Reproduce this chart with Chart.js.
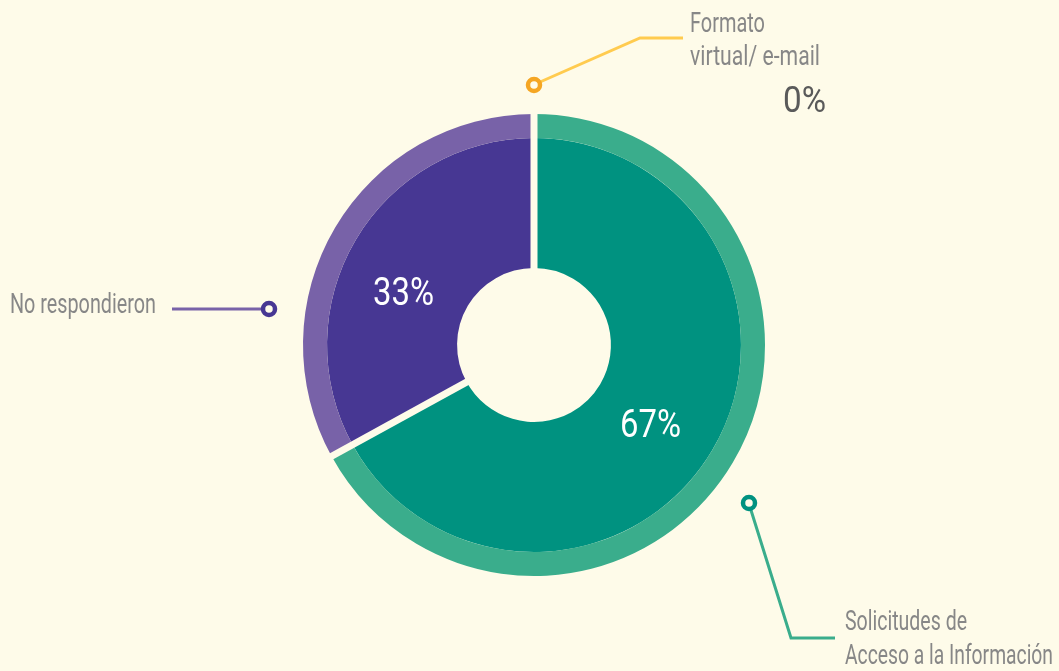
<!DOCTYPE html>
<html>
<head>
<meta charset="utf-8">
<script src="https://cdn.jsdelivr.net/npm/chart.js@4"></script>
<style>
  html, body { margin: 0; padding: 0; background: #FEFBE9; }
  #wrap { width: 1059px; height: 671px; position: relative; }
</style>
</head>
<body>
<div id="wrap"><canvas id="pieChart"></canvas></div>
<script>
// data
const categories = ['Solicitudes de Acceso a la Información', 'No respondieron', 'Formato virtual/ e-mail'];
const values = [67, 33, 0];
const pctLabels = ['67%', '33%', '0%'];

const bg = '#FEFBE9';
const darkColors = ['#009280', '#473793', '#F5A623'];
const lightColors = ['#3AAD8C', '#7862A8', '#FFCB4F'];
const labelGray = '#878787';

const ctx = document.getElementById('pieChart').getContext('2d');

// draws condensed text so it fits a given width (the original uses a narrow font)
function drawText(c, text, x, y, size, color, width, align) {
  c.save();
  c.font = size + 'px Roboto';
  c.fillStyle = color;
  c.textBaseline = 'alphabetic';
  const w = c.measureText(text).width;
  const sx = width / w;
  let left = x;
  if (align === 'center') left = x - width / 2;
  c.translate(left, y);
  c.scale(sx, 1);
  c.textAlign = 'left';
  c.fillText(text, 0, 0);
  c.restore();
}

function ringDot(c, x, y, color) {
  c.save();
  c.beginPath();
  c.arc(x, y, 6, 0, Math.PI * 2);
  c.fillStyle = bg;
  c.fill();
  c.lineWidth = 4.5;
  c.strokeStyle = color;
  c.stroke();
  c.restore();
}

function polyline(c, pts, color) {
  c.save();
  c.beginPath();
  c.moveTo(pts[0][0], pts[0][1]);
  for (let i = 1; i < pts.length; i++) c.lineTo(pts[i][0], pts[i][1]);
  c.lineWidth = 3;
  c.strokeStyle = color;
  c.lineJoin = 'miter';
  c.stroke();
  c.restore();
}

// white gaps between the slices
const gapPlugin = {
  id: 'gaps',
  afterDatasetsDraw(chart) {
    const inner = chart.getDatasetMeta(1).data;
    const outer = chart.getDatasetMeta(0).data;
    const c = chart.ctx;
    const r0 = inner[0].innerRadius - 1;
    const r1 = outer[0].outerRadius + 1;
    const cx = inner[0].x, cy = inner[0].y;
    c.save();
    c.strokeStyle = bg;
    c.lineWidth = 7;
    inner.forEach((arc, i) => {
      if (!values[i]) return;
      const a = arc.startAngle;
      c.beginPath();
      c.moveTo(cx + r0 * Math.cos(a), cy + r0 * Math.sin(a));
      c.lineTo(cx + r1 * Math.cos(a), cy + r1 * Math.sin(a));
      c.stroke();
    });
    c.restore();
  }
};

// callouts and percentages
const calloutPlugin = {
  id: 'callouts',
  afterDraw(chart) {
    const c = chart.ctx;
    const arc = chart.getDatasetMeta(1).data[0];
    const cx = arc.x, cy = arc.y;

    // percentages inside the slices
    drawText(c, pctLabels[1], cx - 130.5, cy - 40, 39, '#FFFFFF', 61, 'center');
    drawText(c, pctLabels[0], cx + 116.5, cy + 92, 38, '#FFFFFF', 61, 'center');

    // Formato virtual / e-mail
    polyline(c, [[cx + 6, cy - 263], [cx + 106, cy - 307], [cx + 149, cy - 307]], lightColors[2]);
    ringDot(c, cx, cy - 260, darkColors[2]);
    drawText(c, 'Formato', cx + 156, cy - 313.5, 27, labelGray, 75);
    drawText(c, 'virtual/ e-mail', cx + 156, cy - 280, 27, labelGray, 130);
    drawText(c, pctLabels[2], cx + 249, cy - 233.3, 37, '#5A5A5A', 43);

    // No respondieron
    polyline(c, [[cx - 362, cy - 36], [cx - 270, cy - 36]], lightColors[1]);
    ringDot(c, cx - 265, cy - 36, darkColors[1]);
    drawText(c, categories[1], cx - 524, cy - 32.3, 27, labelGray, 146);

    // Solicitudes de Acceso a la Información
    polyline(c, [[cx + 216, cy + 162], [cx + 257, cy + 293], [cx + 301, cy + 293]], lightColors[0]);
    ringDot(c, cx + 215, cy + 158, darkColors[0]);
    drawText(c, 'Solicitudes de', cx + 311, cy + 285, 27, labelGray, 122);
    drawText(c, 'Acceso a la Información', cx + 311, cy + 319, 27, labelGray, 208);
  }
};

new Chart(ctx, {
  type: 'doughnut',
  data: {
    labels: categories,
    datasets: [
      {
        data: values,
        backgroundColor: lightColors,
        borderWidth: 0,
        weight: 24
      },
      {
        data: values,
        backgroundColor: darkColors,
        borderWidth: 0,
        weight: 130
      }
    ]
  },
  options: {
    responsive: true,
    maintainAspectRatio: false,
    animation: false,
    cutout: '33.3%',
    layout: { padding: { left: 9, right: 0, top: 114, bottom: 95 } },
    plugins: {
      legend: { display: false },
      tooltip: { enabled: false }
    }
  },
  plugins: [gapPlugin, calloutPlugin]
});
</script>
</body>
</html>
